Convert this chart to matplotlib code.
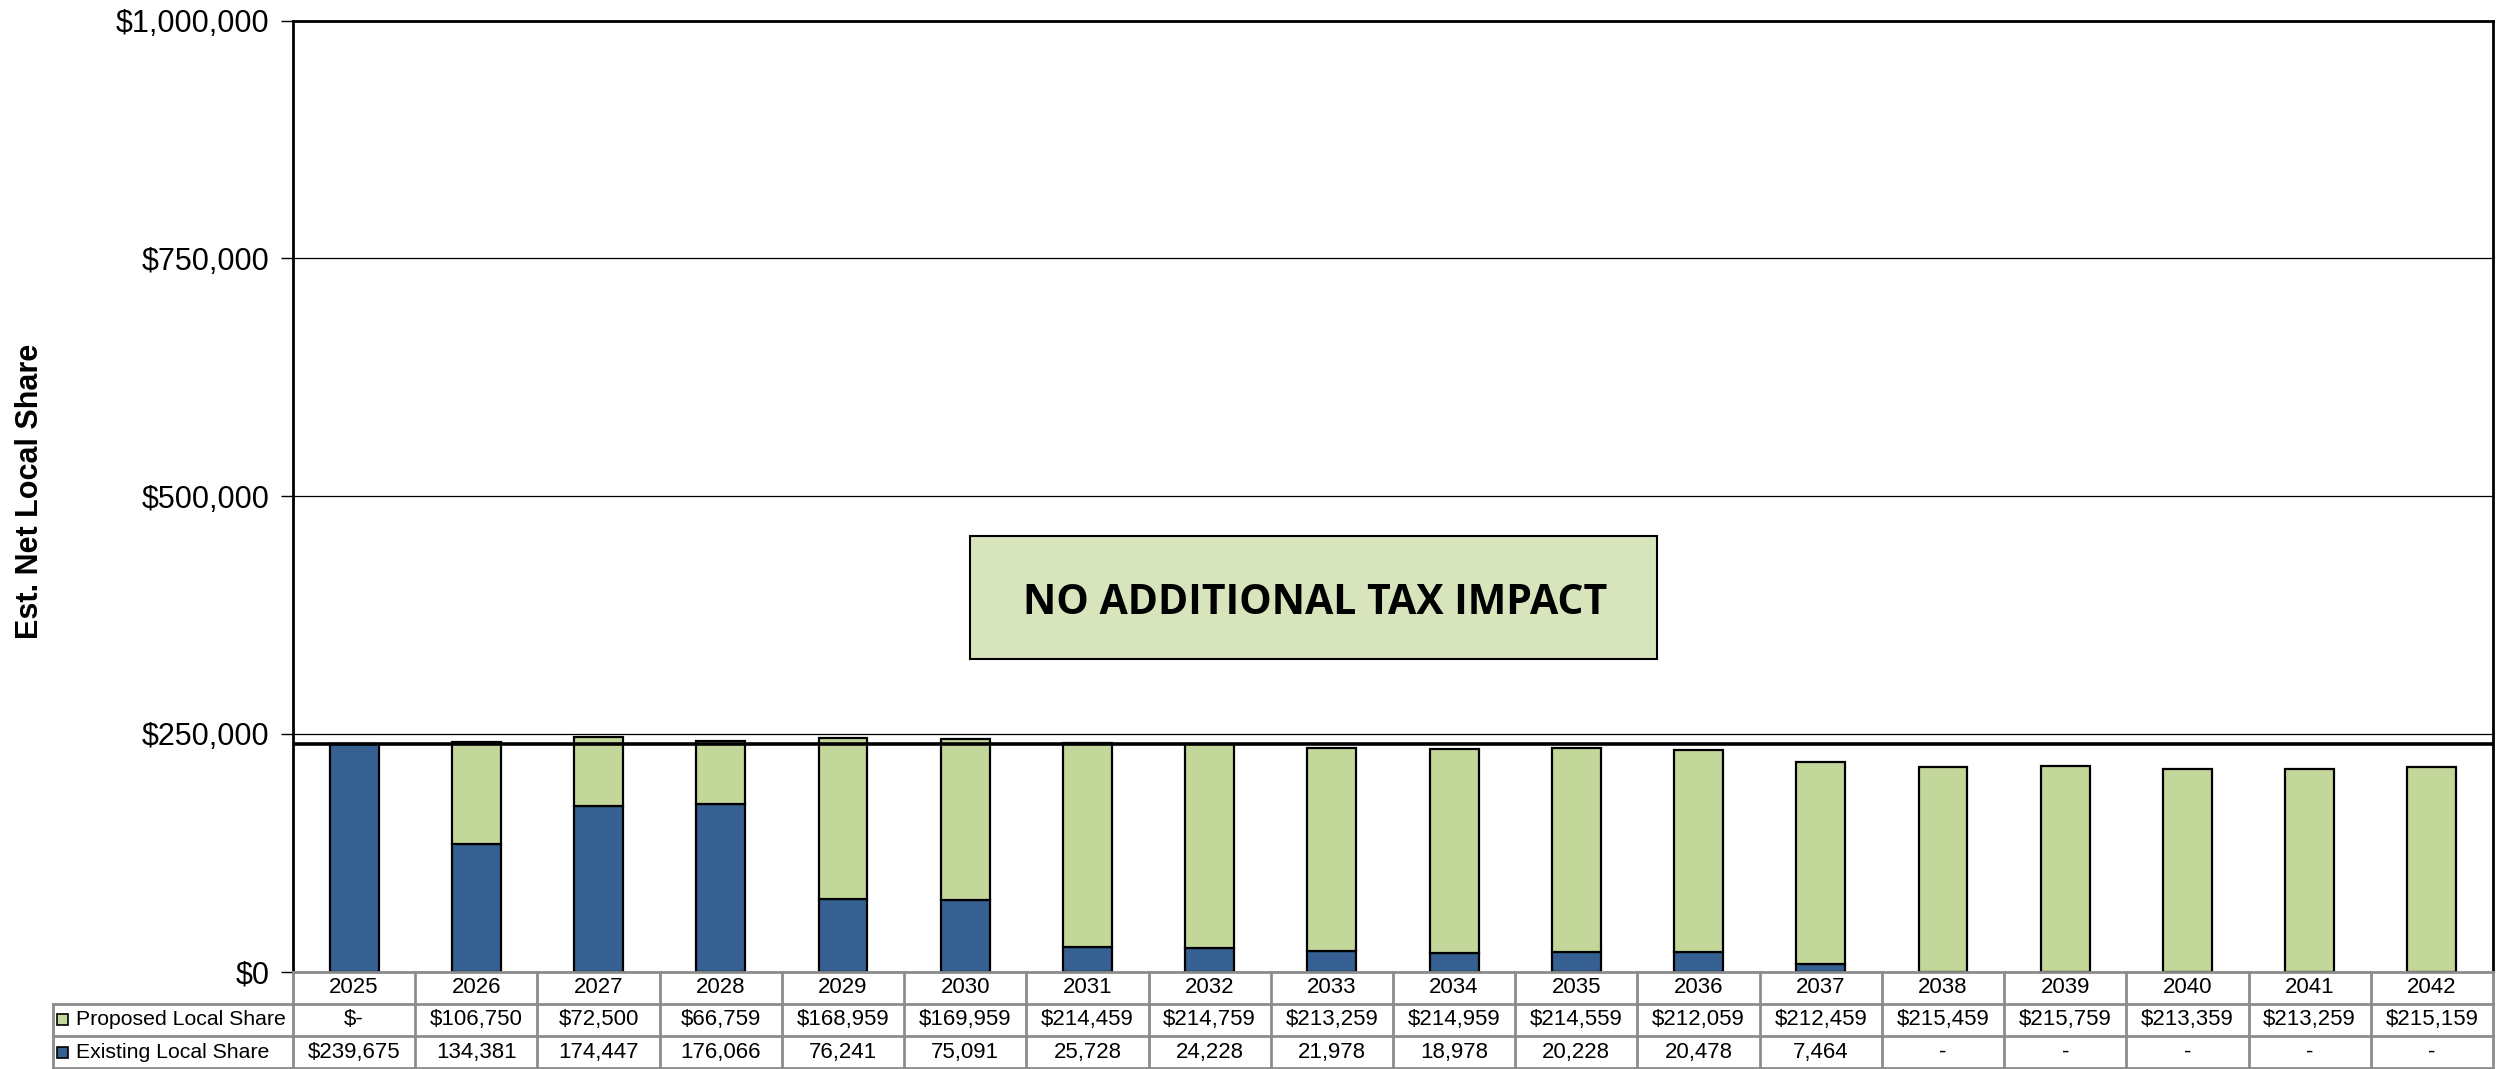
import numpy as np
import matplotlib
matplotlib.use("Agg")
import matplotlib.pyplot as plt
from matplotlib.patches import Rectangle
from matplotlib.lines import Line2D
from matplotlib.transforms import blended_transform_factory

plt.rcParams['font.family'] = ['Liberation Sans', 'DejaVu Sans']

# datos del grafico
years = [str(y) for y in range(2025, 2043)]
existing = [239675, 134381, 174447, 176066, 76241, 75091, 25728, 24228, 21978,
            18978, 20228, 20478, 7464, 0, 0, 0, 0, 0]
proposed = [0, 106750, 72500, 66759, 168959, 169959, 214459, 214759, 213259,
            214959, 214559, 212059, 212459, 215459, 215759, 213359, 213259, 215159]
existing_txt = ["$239,675", "134,381", "174,447", "176,066", "76,241", "75,091",
                "25,728", "24,228", "21,978", "18,978", "20,228", "20,478",
                "7,464", "-", "-", "-", "-", "-"]
proposed_txt = ["$-", "$106,750", "$72,500", "$66,759", "$168,959", "$169,959",
                "$214,459", "$214,759", "$213,259", "$214,959", "$214,559",
                "$212,059", "$212,459", "$215,459", "$215,759", "$213,359",
                "$213,259", "$215,159"]
row_labels = ["Proposed Local Share", "Existing Local Share"]
ref_line = 239675
yticks = [0, 250000, 500000, 750000, 1000000]
ytick_labels = ["$0", "$250,000", "$500,000", "$750,000", "$1,000,000"]

blue = "#366092"
green = "#c4d79b"

fig = plt.figure(figsize=(25.02, 10.69), dpi=100)
ax = fig.add_axes([0.1171, 0.0912, 0.9964 - 0.1171, 0.9806 - 0.0912])
ax_h = 950.8  # alto del eje en pixeles

x = np.arange(len(years))
ax.bar(x, existing, width=0.4, color=blue, edgecolor="black", linewidth=1.6, zorder=3)
ax.bar(x, proposed, width=0.4, bottom=existing, color=green, edgecolor="black",
       linewidth=1.6, zorder=3)

ax.axhline(ref_line, color="black", linewidth=2.6, zorder=4)

ax.set_xlim(-0.5, len(years) - 0.5)
ax.set_ylim(0, 1000000)
ax.set_yticks(yticks)
ax.set_yticklabels(ytick_labels, fontsize=22)
ax.set_xticks([])
ax.yaxis.grid(True, color="black", linewidth=0.9, zorder=0)
ax.tick_params(axis="y", length=9, width=1, pad=8)
for s in ["left", "top", "right"]:
    ax.spines[s].set_linewidth(2)
ax.spines["bottom"].set_visible(False)

ax.set_ylabel("Est. Net Local Share", fontsize=22, fontweight="bold")
ax.yaxis.set_label_coords(-0.1127, 0.505)

# caja de texto
ax.add_patch(Rectangle((5.04, 328700), 5.62, 129300, facecolor="#d8e4bc",
                       edgecolor="black", linewidth=1.5, zorder=4))
ax.text(7.86, 387000, "NO ADDITIONAL TAX IMPACT", fontsize=29.5, fontweight="bold",
        family=["Open Sans", "DejaVu Sans"], ha="center", va="center", zorder=5)

# tabla de datos (x en datos, y en eje)
tr = blended_transform_factory(ax.transData, ax.transAxes)
row_h = 32.3 / ax_h
left = -0.5 - 240 / 122
right = len(years) - 0.5
grey = "#8c8c8c"
fs = 16

def hline(x0, x1, y):
    ax.add_line(Line2D([x0, x1], [y, y], transform=tr, color=grey, linewidth=2,
                       clip_on=False, zorder=6))

def vline(xv, y0, y1):
    ax.add_line(Line2D([xv, xv], [y0, y1], transform=tr, color=grey, linewidth=2,
                       clip_on=False, zorder=6))

hline(-0.5, right, 0)
hline(left, right, -row_h)
hline(left, right, -2 * row_h)
hline(left, right, -3 * row_h)
for k in range(len(years) + 1):
    vline(-0.5 + k, 0, -3 * row_h)
vline(left, -row_h, -3 * row_h)

for i, yr in enumerate(years):
    ax.text(i, -0.5 * row_h, yr, transform=tr, ha="center", va="center", fontsize=fs)
    ax.text(i, -1.5 * row_h, proposed_txt[i], transform=tr, ha="center", va="center",
            fontsize=fs)
    ax.text(i, -2.5 * row_h, existing_txt[i], transform=tr, ha="center", va="center",
            fontsize=fs)

for j, (lab, col) in enumerate(zip(row_labels, [green, blue])):
    yc = -(1.5 + j) * row_h
    ax.text(-0.5 - 217 / 122, yc, lab, transform=tr, ha="left", va="center",
            fontsize=15.3)
    ax.add_patch(Rectangle((-0.5 - 236 / 122, yc - 5.5 / ax_h), 11 / 122, 11 / ax_h,
                           transform=tr, facecolor=col, edgecolor="black",
                           linewidth=1.2, clip_on=False, zorder=6))

fig.savefig("out.png", dpi=100)
